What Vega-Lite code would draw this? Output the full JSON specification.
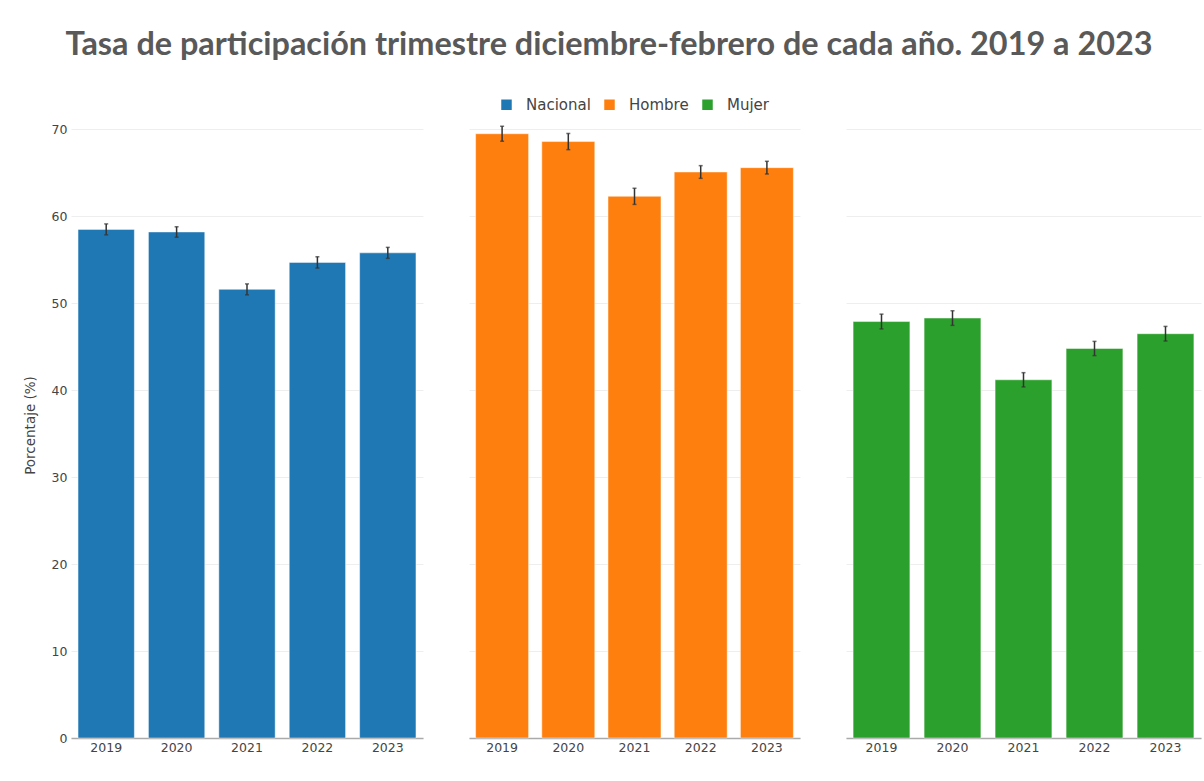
{
  "$schema": "https://vega.github.io/schema/vega-lite/v6.json",
  "autosize": {"type": "pad"},
  "padding": {"left": 23, "top": 28, "right": 5, "bottom": 5},
  "background": "white",
  "title": {
    "text": "Tasa de participación trimestre diciembre-febrero de cada año. 2019 a 2023",
    "font": "Lato",
    "fontSize": 32.4,
    "fontWeight": "bold",
    "color": "#595959",
    "anchor": "middle",
    "dx": -3,
    "offset": 36
  },
  "data": {
    "values": [
      {"grupo": "Nacional", "anio": "2019", "valor": 58.5, "lo": 57.87, "hi": 59.13},
      {"grupo": "Nacional", "anio": "2020", "valor": 58.2, "lo": 57.6, "hi": 58.8},
      {"grupo": "Nacional", "anio": "2021", "valor": 51.6, "lo": 50.97, "hi": 52.23},
      {"grupo": "Nacional", "anio": "2022", "valor": 54.7, "lo": 54.05, "hi": 55.35},
      {"grupo": "Nacional", "anio": "2023", "valor": 55.8, "lo": 55.17, "hi": 56.43},
      {"grupo": "Hombre", "anio": "2019", "valor": 69.5, "lo": 68.64, "hi": 70.36},
      {"grupo": "Hombre", "anio": "2020", "valor": 68.6, "lo": 67.67, "hi": 69.53},
      {"grupo": "Hombre", "anio": "2021", "valor": 62.3, "lo": 61.37, "hi": 63.23},
      {"grupo": "Hombre", "anio": "2022", "valor": 65.1, "lo": 64.37, "hi": 65.83},
      {"grupo": "Hombre", "anio": "2023", "valor": 65.6, "lo": 64.87, "hi": 66.33},
      {"grupo": "Mujer", "anio": "2019", "valor": 47.9, "lo": 47.05, "hi": 48.75},
      {"grupo": "Mujer", "anio": "2020", "valor": 48.3, "lo": 47.46, "hi": 49.14},
      {"grupo": "Mujer", "anio": "2021", "valor": 41.2, "lo": 40.38, "hi": 42.02},
      {"grupo": "Mujer", "anio": "2022", "valor": 44.8, "lo": 43.98, "hi": 45.62},
      {"grupo": "Mujer", "anio": "2023", "valor": 46.5, "lo": 45.66, "hi": 47.34}
    ]
  },
  "spacing": 46,
  "resolve": {
    "scale": {"y": "shared", "color": "shared", "x": "independent"},
    "axis": {"y": "independent", "x": "independent"},
    "legend": {"color": "shared"}
  },
  "hconcat": [
    {
      "width": 352,
      "height": 626,
      "transform": [{"filter": "datum.grupo === 'Nacional'"}],
      "encoding": {
        "x": {"field": "anio", "type": "ordinal", "title": null, "scale": {"paddingInner": 0.2, "paddingOuter": 0.1}}
      },
      "layer": [
        {
          "mark": {"type": "bar", "stroke": "white", "strokeOpacity": 0.45, "strokeWidth": 1},
          "encoding": {
            "y": {"field": "valor", "type": "quantitative", "title": "Porcentaje (%)", "scale": {"domain": [0, 72], "nice": false},
                  "axis": {"values": [0, 10, 20, 30, 40, 50, 60, 70], "titlePadding": 14}},
            "color": {"field": "grupo", "type": "nominal",
                      "scale": {"domain": ["Nacional", "Hombre", "Mujer"], "range": ["#1f77b4", "#ff7f0e", "#2ca02c"]},
                      "legend": {"orient": "none", "legendX": 428, "legendY": -15, "direction": "horizontal", "title": null}}
          }
        },
        {
          "mark": {"type": "rule", "color": "#333333", "strokeWidth": 1.5},
          "encoding": {
            "y": {"field": "lo", "type": "quantitative"},
            "y2": {"field": "hi"}
          }
        },
        {
          "mark": {"type": "tick", "color": "#333333", "thickness": 1.5, "size": 4},
          "encoding": {"y": {"field": "lo", "type": "quantitative"}}
        },
        {
          "mark": {"type": "tick", "color": "#333333", "thickness": 1.5, "size": 4},
          "encoding": {"y": {"field": "hi", "type": "quantitative"}}
        }
      ]
    },
    {
      "width": 331,
      "height": 626,
      "transform": [{"filter": "datum.grupo === 'Hombre'"}],
      "encoding": {
        "x": {"field": "anio", "type": "ordinal", "title": null, "scale": {"paddingInner": 0.2, "paddingOuter": 0.1}}
      },
      "layer": [
        {
          "mark": {"type": "bar", "stroke": "white", "strokeOpacity": 0.45, "strokeWidth": 1},
          "encoding": {
            "y": {"field": "valor", "type": "quantitative", "title": null,
                  "axis": {"values": [0, 10, 20, 30, 40, 50, 60, 70], "labels": false, "ticks": false, "domain": false, "title": null}},
            "color": {"field": "grupo", "type": "nominal",
                      "legend": {"orient": "none", "legendX": 428, "legendY": -15, "direction": "horizontal", "title": null}}
          }
        },
        {
          "mark": {"type": "rule", "color": "#333333", "strokeWidth": 1.5},
          "encoding": {
            "y": {"field": "lo", "type": "quantitative"},
            "y2": {"field": "hi"}
          }
        },
        {
          "mark": {"type": "tick", "color": "#333333", "thickness": 1.5, "size": 4},
          "encoding": {"y": {"field": "lo", "type": "quantitative"}}
        },
        {
          "mark": {"type": "tick", "color": "#333333", "thickness": 1.5, "size": 4},
          "encoding": {"y": {"field": "hi", "type": "quantitative"}}
        }
      ]
    },
    {
      "width": 355,
      "height": 626,
      "transform": [{"filter": "datum.grupo === 'Mujer'"}],
      "encoding": {
        "x": {"field": "anio", "type": "ordinal", "title": null, "scale": {"paddingInner": 0.2, "paddingOuter": 0.1}}
      },
      "layer": [
        {
          "mark": {"type": "bar", "stroke": "white", "strokeOpacity": 0.45, "strokeWidth": 1},
          "encoding": {
            "y": {"field": "valor", "type": "quantitative", "title": null,
                  "axis": {"values": [0, 10, 20, 30, 40, 50, 60, 70], "labels": false, "ticks": false, "domain": false, "title": null}},
            "color": {"field": "grupo", "type": "nominal",
                      "legend": {"orient": "none", "legendX": 428, "legendY": -15, "direction": "horizontal", "title": null}}
          }
        },
        {
          "mark": {"type": "rule", "color": "#333333", "strokeWidth": 1.5},
          "encoding": {
            "y": {"field": "lo", "type": "quantitative"},
            "y2": {"field": "hi"}
          }
        },
        {
          "mark": {"type": "tick", "color": "#333333", "thickness": 1.5, "size": 4},
          "encoding": {"y": {"field": "lo", "type": "quantitative"}}
        },
        {
          "mark": {"type": "tick", "color": "#333333", "thickness": 1.5, "size": 4},
          "encoding": {"y": {"field": "hi", "type": "quantitative"}}
        }
      ]
    }
  ],
  "config": {
    "view": {"stroke": null},
    "axis": {
      "labelFont": "DejaVu Sans",
      "labelFontSize": 12.5,
      "labelColor": "#444444",
      "titleFont": "DejaVu Sans",
      "titleFontSize": 13.5,
      "titleFontWeight": "normal",
      "titleColor": "#444444"
    },
    "axisX": {
      "labelAngle": 0,
      "ticks": false,
      "grid": false,
      "domainColor": "#aaaaaa",
      "domainWidth": 1.5,
      "labelPadding": 3
    },
    "axisY": {
      "grid": true,
      "gridColor": "#eeeeee",
      "gridWidth": 1,
      "ticks": false,
      "domain": false,
      "labelPadding": 4
    },
    "legend": {
      "symbolType": "square",
      "symbolSize": 110,
      "symbolStrokeWidth": 0,
      "labelFont": "DejaVu Sans",
      "labelFontSize": 15,
      "labelColor": "#444444",
      "labelOffset": 12,
      "columnPadding": 11,
      "padding": 0
    }
  }
}
